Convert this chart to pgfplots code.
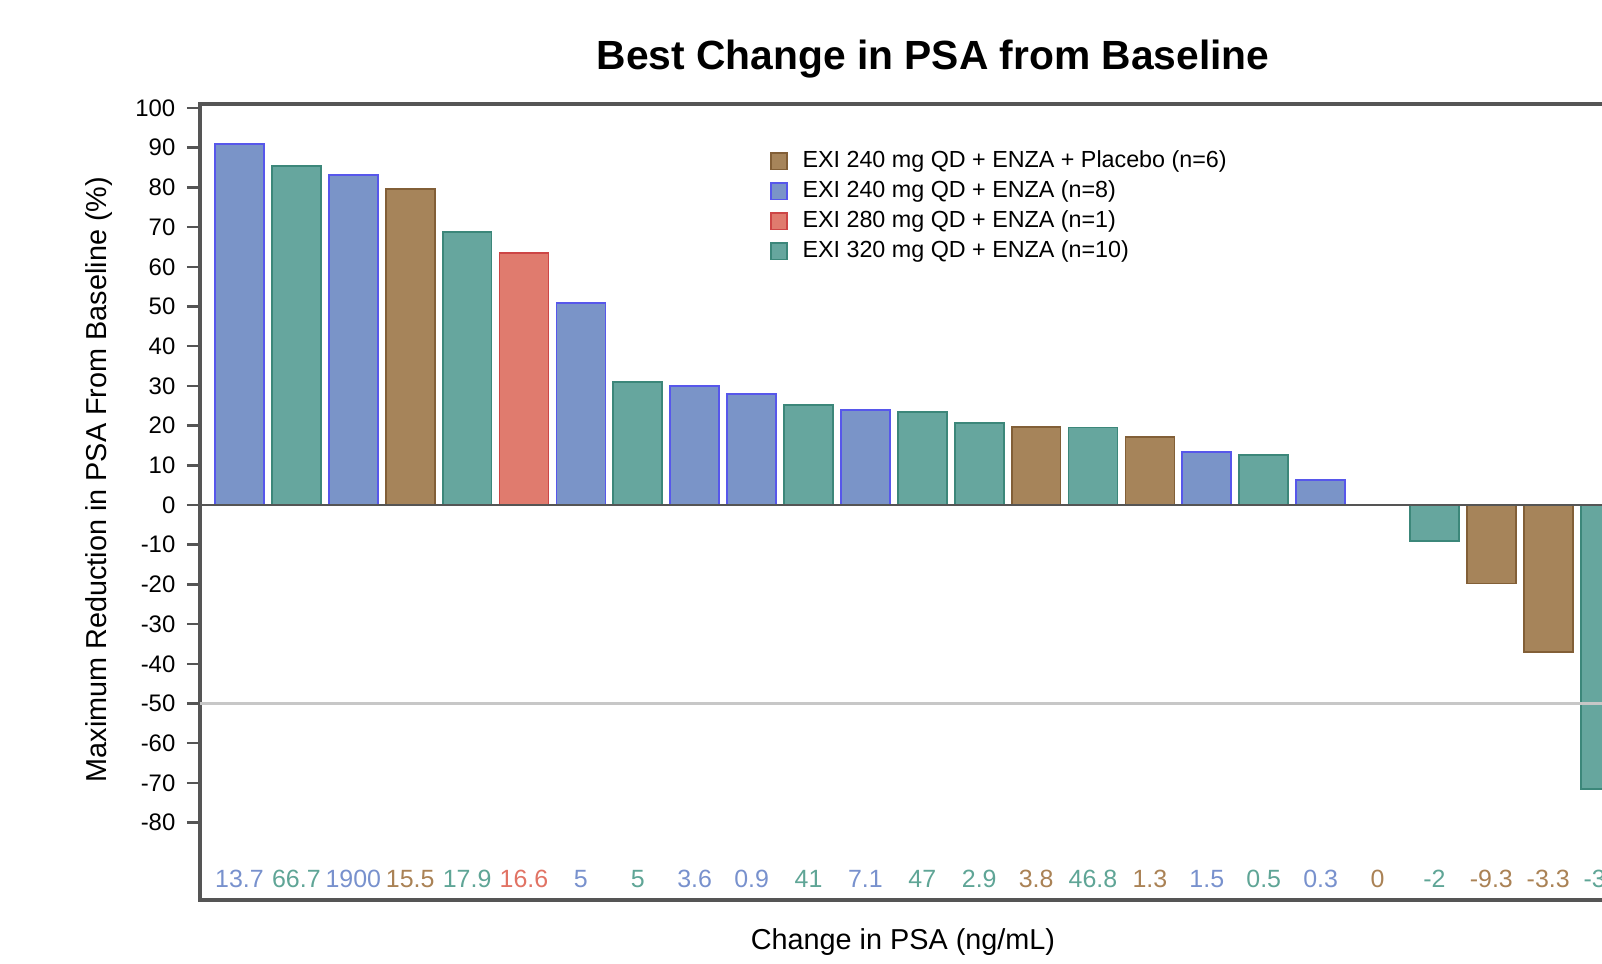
\documentclass[border=0pt]{standalone}
\usepackage{fontspec}
\setmainfont{Liberation Sans}
\usepackage{pgfplots}
\pgfplotsset{compat=1.18}
\definecolor{blueFill}{HTML}{7A94C8}
\definecolor{blueDraw}{HTML}{5757EB}
\definecolor{tealFill}{HTML}{66A69E}
\definecolor{tealDraw}{HTML}{3C877A}
\definecolor{brownFill}{HTML}{A6845A}
\definecolor{brownDraw}{HTML}{825F37}
\definecolor{redFill}{HTML}{E07B6E}
\definecolor{redDraw}{HTML}{CD4646}
\definecolor{lblue}{HTML}{7891CD}
\definecolor{lteal}{HTML}{5FA596}
\definecolor{lbrown}{HTML}{AA8255}
\definecolor{lred}{HTML}{E17364}
\definecolor{axgray}{HTML}{555555}
\begin{document}
\begin{tikzpicture}
\useasboundingbox (0mm,0mm) rectangle (160.2mm,96.3mm);
\begin{axis}[
  at={(20mm,6.3mm)}, anchor=south west,
  scale only axis, width=146.6mm, height=79.6mm,
  xmin=0.3058, xmax=26.07, ymin=-99.5, ymax=101,
  axis line style={draw=axgray, line width=1pt},
  ytick={-80,-70,...,100},
  ytick pos=left,
  tick align=outside,
  major tick length=1.3mm,
  y tick style={draw=axgray, line width=0.7pt},
  /pgf/number format/assume math mode=true,
  yticklabel style={font=\fontsize{6.8}{8}\selectfont, inner sep=0pt, anchor=east, xshift=-1.1mm},
  xtick={1,...,25},
  x tick style={draw=none},
  xticklabels={\textcolor{lblue}{13.7},\textcolor{lteal}{66.7},\textcolor{lblue}{1900},\textcolor{lbrown}{15.5},\textcolor{lteal}{17.9},\textcolor{lred}{16.6},\textcolor{lblue}{5},\textcolor{lteal}{5},\textcolor{lblue}{3.6},\textcolor{lblue}{0.9},\textcolor{lteal}{41},\textcolor{lblue}{7.1},\textcolor{lteal}{47},\textcolor{lteal}{2.9},\textcolor{lbrown}{3.8},\textcolor{lteal}{46.8},\textcolor{lbrown}{1.3},\textcolor{lblue}{1.5},\textcolor{lteal}{0.5},\textcolor{lblue}{0.3},\textcolor{lbrown}{0},\textcolor{lteal}{-2},\textcolor{lbrown}{-9.3},\textcolor{lbrown}{-3.3},\textcolor{lteal}{-3.4}},
  xticklabel style={font=\fontsize{7.1}{8}\selectfont, anchor=base, yshift=2.58mm},
  title={Best Change in PSA from Baseline},
  title style={font=\fontsize{11.6}{13}\selectfont\bfseries, at={(axis description cs:0.5,1)}, anchor=base, yshift=1.31mm},
  ylabel={Maximum Reduction in PSA From Baseline (\%)},
  ylabel style={font=\fontsize{8.2}{10}\selectfont, at={(axis description cs:-0.0689,0.528)}, anchor=center},
  xlabel={Change in PSA (ng/mL)},
  xlabel style={font=\fontsize{8.2}{10}\selectfont, at={(axis description cs:0.4795,-0.053)}, anchor=center},
  bar width=0.86,
  legend style={at={(axis description cs:0.381,0.952)}, anchor=north west, draw=none, fill=none,
    font=\fontsize{6.63}{8}\selectfont, row sep=0.75mm,
    nodes={inner sep=0pt, text height=1.75mm, text depth=0.5mm},
    /tikz/every odd column/.append style={column sep=1.5mm}},
  legend cell align=left,
  legend image code/.code={\draw[#1, line width=0.5pt] (0mm,-0.83mm) rectangle (1.6mm,0.83mm);},
]
\addplot[ybar, bar shift=0pt, fill=brownFill, draw=brownDraw, line width=0.5pt] coordinates {(4,79.5) (15,19.6) (17,17.2) (21,0) (23,-19.8) (24,-37.1)};
\addlegendentry{EXI 240 mg QD + ENZA + Placebo (n=6)}
\addplot[ybar, bar shift=0pt, fill=blueFill, draw=blueDraw, line width=0.5pt] coordinates {(1,90.9) (3,83.1) (7,50.8) (9,30.0) (10,28.0) (12,23.9) (18,13.4) (20,6.3)};
\addlegendentry{EXI 240 mg QD + ENZA (n=8)}
\addplot[ybar, bar shift=0pt, fill=redFill, draw=redDraw, line width=0.5pt] coordinates {(6,63.4)};
\addlegendentry{EXI 280 mg QD + ENZA (n=1)}
\addplot[ybar, bar shift=0pt, fill=tealFill, draw=tealDraw, line width=0.5pt] coordinates {(2,85.4) (5,68.8) (8,30.9) (11,25.2) (13,23.4) (14,20.6) (16,19.5) (19,12.6) (22,-9.0) (25,-71.5)};
\addlegendentry{EXI 320 mg QD + ENZA (n=10)}
\draw[color=black!22, line width=0.8pt] (axis cs:0.3058,-50) -- (axis cs:26.07,-50);
\draw[color=axgray, line width=0.7pt] (axis cs:0.3058,0) -- (axis cs:26.07,0);
\end{axis}
\end{tikzpicture}
\end{document}
